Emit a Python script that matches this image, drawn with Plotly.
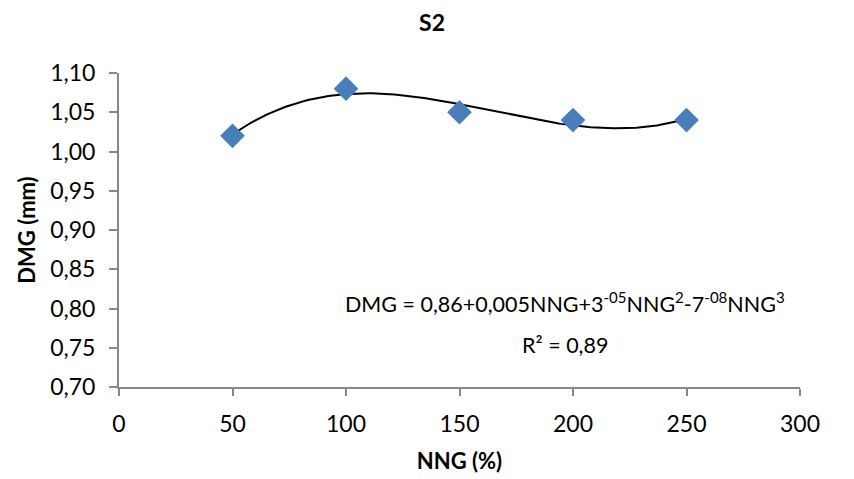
import numpy as np
import plotly.graph_objects as go

nng = [50, 100, 150, 200, 250]
dmg = [1.02, 1.08, 1.05, 1.04, 1.04]
x_ticks = [0, 50, 100, 150, 200, 250, 300]
y_ticks = [0.70, 0.75, 0.80, 0.85, 0.90, 0.95, 1.00, 1.05, 1.10]

coef = np.polyfit(nng, dmg, 3)
xs = np.linspace(min(nng), max(nng), 200)
ys = np.polyval(coef, xs)

FONT = "Lato, 'Open Sans', sans-serif"
fig = go.Figure()
fig.add_trace(go.Scatter(x=xs, y=ys, mode="lines", line=dict(color="black", width=2), hoverinfo="skip"))
fig.add_trace(go.Scatter(x=nng, y=dmg, mode="markers",
                         marker=dict(symbol="diamond", size=19, color="#4a7ebb")))

fig.update_layout(
    width=854, height=479,
    margin=dict(l=111, r=62, t=65, b=100),
    paper_bgcolor="white", plot_bgcolor="white",
    showlegend=False,
    font=dict(family=FONT, size=22, color="black"),
    title=dict(text="<b>S2</b>", x=424/854, xanchor="center", y=1 - 15/479, yanchor="middle",
               font=dict(size=23, family=FONT)),
    xaxis=dict(range=[0, 300], tickvals=x_ticks, ticktext=[str(v) for v in x_ticks],
               showgrid=False, zeroline=False, showline=True, linecolor="#888888", linewidth=2,
               ticks="outside", ticklen=7, tickcolor="#888888", tickwidth=2, automargin=False,
               tickfont=dict(size=23), ticklabelstandoff=8,
               title=dict(text="<b>NNG (%)</b>", font=dict(size=22), standoff=18)),
    yaxis=dict(range=[0.70, 1.10], tickvals=y_ticks,
               ticktext=[f"{v:.2f}".replace(".", ",") for v in y_ticks],
               showgrid=False, zeroline=False, showline=True, linecolor="#888888", linewidth=2,
               ticks="outside", ticklen=8, tickcolor="#888888", tickwidth=2, automargin=False,
               tickfont=dict(size=23), ticklabelstandoff=9,
               title=dict(text="<b>DMG (mm)</b>", font=dict(size=22), standoff=8)),
)
fig.add_annotation(xref="paper", yref="paper", x=(565-119)/681, y=(387-302)/314,
                   text="DMG = 0,86+0,005NNG+3<sup>-05</sup>NNG<sup>2</sup>-7<sup>-08</sup>NNG<sup>3</sup>",
                   showarrow=False, xanchor="center", yanchor="middle",
                   font=dict(size=21.5, family=FONT))
fig.add_annotation(xref="paper", yref="paper", x=(565-119)/681, y=(387-345)/314,
                   text="R² = 0,89",
                   showarrow=False, xanchor="center", yanchor="middle",
                   font=dict(size=21.5, family=FONT))
fig.write_html("out.html")
